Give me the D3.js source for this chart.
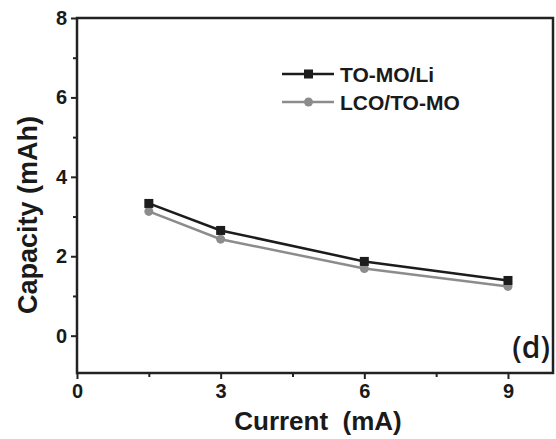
<!DOCTYPE html>
<html>
<head>
<meta charset="utf-8">
<script src="https://cdn.jsdelivr.net/npm/d3@7"></script>
<style>
  body { margin: 0; background: #fff; }
  text { font-family: Arial, "Liberation Sans", sans-serif; fill: #1a1a1a; }
</style>
</head>
<body>
<script>
// data
var currents = [1.5, 3, 6, 9];
var toMoLi = [3.33, 2.65, 1.87, 1.39];
var lcoToMo = [3.13, 2.43, 1.69, 1.24];
var xTicks = [0, 3, 6, 9];
var xMinor = [1.5, 4.5, 7.5];
var yTicks = [0, 2, 4, 6, 8];
var yMinor = [1, 3, 5, 7];
var seriesNames = ['TO-MO/Li', 'LCO/TO-MO'];

var width = 556, height = 439;
// note: can't call these top/left, window.top is read only
var plotLeft = 77, plotRight = 553, plotTop = 18, plotBottom = 373;
var dark = '#1c1c1c', grey = '#8c8c8c';

var svg = d3.select('body').append('svg').attr('width', width).attr('height', height);

var x = d3.scaleLinear().domain([0, 9.94]).range([plotLeft, plotRight]);
var y = d3.scaleLinear().domain([-0.94, 8]).range([plotBottom, plotTop]);

// frame
svg.append('rect')
  .attr('x', plotLeft).attr('y', plotTop)
  .attr('width', plotRight - plotLeft).attr('height', plotBottom - plotTop)
  .attr('fill', 'none').attr('stroke', '#222').attr('stroke-width', 2.5);

// axes
var xAxis = svg.append('g').attr('transform', 'translate(0,' + plotBottom + ')')
  .call(d3.axisBottom(x).tickValues(xTicks).tickSize(6).tickPadding(4).tickFormat(d3.format('d')));
svg.append('g').attr('transform', 'translate(0,' + plotBottom + ')')
  .call(d3.axisBottom(x).tickValues(xMinor).tickSize(4).tickFormat(''));
var yAxis = svg.append('g').attr('transform', 'translate(' + plotLeft + ',0)')
  .call(d3.axisLeft(y).tickValues(yTicks).tickSize(6).tickPadding(4).tickFormat(d3.format('d')));
svg.append('g').attr('transform', 'translate(' + plotLeft + ',0)')
  .call(d3.axisLeft(y).tickValues(yMinor).tickSize(4).tickFormat(''));

svg.selectAll('.domain').remove();
svg.selectAll('.tick line').attr('stroke', '#222').attr('stroke-width', 2);
svg.selectAll('.tick text').attr('font-size', 20).attr('font-weight', 'bold').attr('fill', '#1a1a1a');
xAxis.selectAll('.tick text').attr('dy', '0.75em');

// axis titles
svg.append('text')
  .attr('x', 318).attr('y', 430)
  .attr('text-anchor', 'middle')
  .attr('font-size', 26).attr('font-weight', 'bold')
  .attr('xml:space', 'preserve')
  .text('Current  (mA)');
svg.append('text')
  .attr('transform', 'translate(37,' + 215 + ') rotate(-90)')
  .attr('text-anchor', 'middle')
  .attr('font-size', 27).attr('font-weight', 'bold')
  .text('Capacity (mAh)');

// panel label
svg.append('text')
  .attr('x', 550).attr('y', 358)
  .attr('text-anchor', 'end')
  .attr('font-size', 30)
  .attr('font-weight', 600)
  .style('font-family', '"Open Sans", sans-serif')
  .text('(d)');

var line = d3.line()
  .x(function(d) { return x(d[0]); })
  .y(function(d) { return y(d[1]); });

var lcoPts = currents.map(function(c, i) { return [c, lcoToMo[i]]; });
var liPts = currents.map(function(c, i) { return [c, toMoLi[i]]; });

// grey series under the black one
svg.append('path').datum(lcoPts)
  .attr('d', line).attr('fill', 'none').attr('stroke', grey).attr('stroke-width', 2.5);
svg.selectAll('.dot').data(lcoPts).enter().append('circle')
  .attr('class', 'dot')
  .attr('cx', function(d) { return x(d[0]); })
  .attr('cy', function(d) { return y(d[1]); })
  .attr('r', 4.5).attr('fill', grey);

svg.append('path').datum(liPts)
  .attr('d', line).attr('fill', 'none').attr('stroke', dark).attr('stroke-width', 2.5);
svg.selectAll('.sq').data(liPts).enter().append('rect')
  .attr('class', 'sq')
  .attr('x', function(d) { return x(d[0]) - 4.5; })
  .attr('y', function(d) { return y(d[1]) - 4.5; })
  .attr('width', 9).attr('height', 9).attr('fill', dark);

// legend
var legend = svg.append('g');
var legendRows = [
  { name: seriesNames[0], color: dark, shape: 'square', yy: 74 },
  { name: seriesNames[1], color: grey, shape: 'circle', yy: 102 }
];
legendRows.forEach(function(r) {
  legend.append('line')
    .attr('x1', 282).attr('x2', 334).attr('y1', r.yy).attr('y2', r.yy)
    .attr('stroke', r.color).attr('stroke-width', 2.5);
  if (r.shape === 'square') {
    legend.append('rect').attr('x', 304).attr('y', r.yy - 4.5)
      .attr('width', 9).attr('height', 9).attr('fill', r.color);
  } else {
    legend.append('circle').attr('cx', 308.5).attr('cy', r.yy).attr('r', 4.5).attr('fill', r.color);
  }
  legend.append('text')
    .attr('x', 340).attr('y', r.yy + 8)
    .attr('font-size', 21).attr('font-weight', 'bold')
    .text(r.name);
});
</script>
</body>
</html>
